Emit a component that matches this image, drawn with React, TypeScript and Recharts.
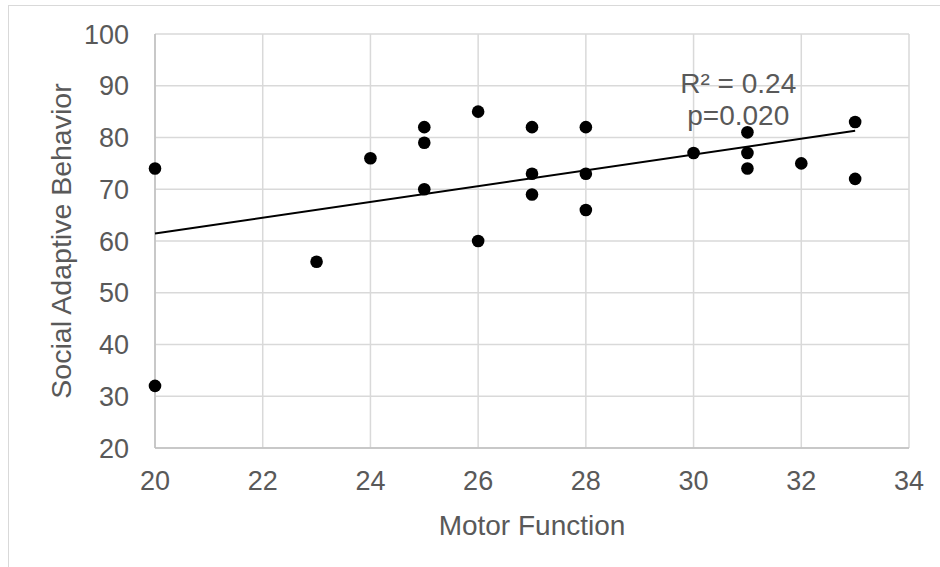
import React from 'react';
import {
  ScatterChart,
  Scatter,
  XAxis,
  YAxis,
  CartesianGrid,
  ReferenceDot,
} from 'recharts';

const motorFunction = [20, 20, 23, 24, 25, 25, 25, 26, 26, 27, 27, 27, 28, 28, 28, 30, 31, 31, 31, 32, 33, 33];
const socialAdaptive = [74, 32, 56, 76, 82, 79, 70, 85, 60, 82, 73, 69, 82, 73, 66, 77, 81, 77, 74, 75, 83, 72];

const trendX = [20, 33];
const trendY = [61.45, 81.3];

const xTicks = [20, 22, 24, 26, 28, 30, 32, 34];
const yTicks = [20, 30, 40, 50, 60, 70, 80, 90, 100];

const annotationLines = ['R² = 0.24', 'p=0.020'];

const points = motorFunction.map((x, i) => ({ x, y: socialAdaptive[i] }));
const trend = trendX.map((x, i) => ({ x, y: trendY[i] }));

const FONT = '"Liberation Sans", Arial, Helvetica, sans-serif';
const TEXT = '#595959';

const Dot = (props: any) => {
  const { cx, cy } = props;
  if (cx == null || cy == null) return <g />;
  return <circle cx={cx} cy={cy} r={6.3} fill="#000000" />;
};

const NoShape = () => <g />;

const YTitle = (props: any) => {
  const vb = props.viewBox || {};
  const cx = vb.x + 61;
  const cy = vb.y + vb.height / 2;
  return (
    <text
      x={cx}
      y={cy}
      transform={`rotate(-90 ${cx} ${cy})`}
      textAnchor="middle"
      dominantBaseline="central"
      fill={TEXT}
      fontSize={28.5}
      fontFamily={FONT}
    >
      Social Adaptive Behavior
    </text>
  );
};

const XTitle = (props: any) => {
  const vb = props.viewBox || {};
  const cx = vb.x + vb.width / 2;
  const y = vb.y + 87;
  return (
    <text x={cx} y={y} textAnchor="middle" fill={TEXT} fontSize={28} fontFamily={FONT}>
      Motor Function
    </text>
  );
};

const makeAnnotation = (text: string) => (props: any) => {
  const vb = props.viewBox || {};
  return (
    <text x={vb.x} y={vb.y} textAnchor="middle" fill={TEXT} fontSize={28} fontFamily={FONT}>
      {text}
    </text>
  );
};

const annotationAnchorX = 30.83;
const annotationAnchorY = [88.67, 82.43];

export default function App() {
  return (
    <div style={{ position: 'absolute', left: 0, top: 0, width: 940, height: 567, background: '#fff' }}>
      <div
        style={{
          position: 'absolute',
          left: 8,
          top: 5,
          width: 940,
          height: 570,
          borderLeft: '1px solid #d9d9d9',
          borderTop: '1px solid #d9d9d9',
        }}
      />
      <div style={{ position: 'absolute', left: 0, top: 0 }}>
        <ScatterChart width={940} height={567} margin={{ top: 34, right: 31, bottom: 0, left: 0 }}>
          <CartesianGrid stroke="#d9d9d9" strokeWidth={1.5} />
          <XAxis
            type="number"
            dataKey="x"
            domain={[20, 34]}
            ticks={xTicks}
            interval={0}
            height={119}
            tickLine={false}
            tickSize={0}
            tickMargin={23}
            axisLine={{ stroke: '#bfbfbf', strokeWidth: 1.5 }}
            tick={{ fill: TEXT, fontSize: 27, fontFamily: FONT }}
            label={{ content: XTitle }}
          />
          <YAxis
            type="number"
            dataKey="y"
            domain={[20, 100]}
            ticks={yTicks}
            interval={0}
            width={155}
            tickLine={false}
            tickSize={0}
            tickMargin={26}
            axisLine={{ stroke: '#bfbfbf', strokeWidth: 1.5 }}
            tick={{ fill: TEXT, fontSize: 27, fontFamily: FONT }}
            label={{ content: YTitle }}
          />
          <Scatter
            data={trend}
            line={{ stroke: '#000000', strokeWidth: 2 }}
            shape={NoShape}
            isAnimationActive={false}
          />
          <Scatter data={points} shape={Dot} isAnimationActive={false} />
          {annotationLines.map((t, i) => (
            <ReferenceDot
              key={t}
              x={annotationAnchorX}
              y={annotationAnchorY[i]}
              r={0}
              fill="none"
              stroke="none"
              label={{ content: makeAnnotation(t) }}
            />
          ))}
        </ScatterChart>
      </div>
    </div>
  );
}
